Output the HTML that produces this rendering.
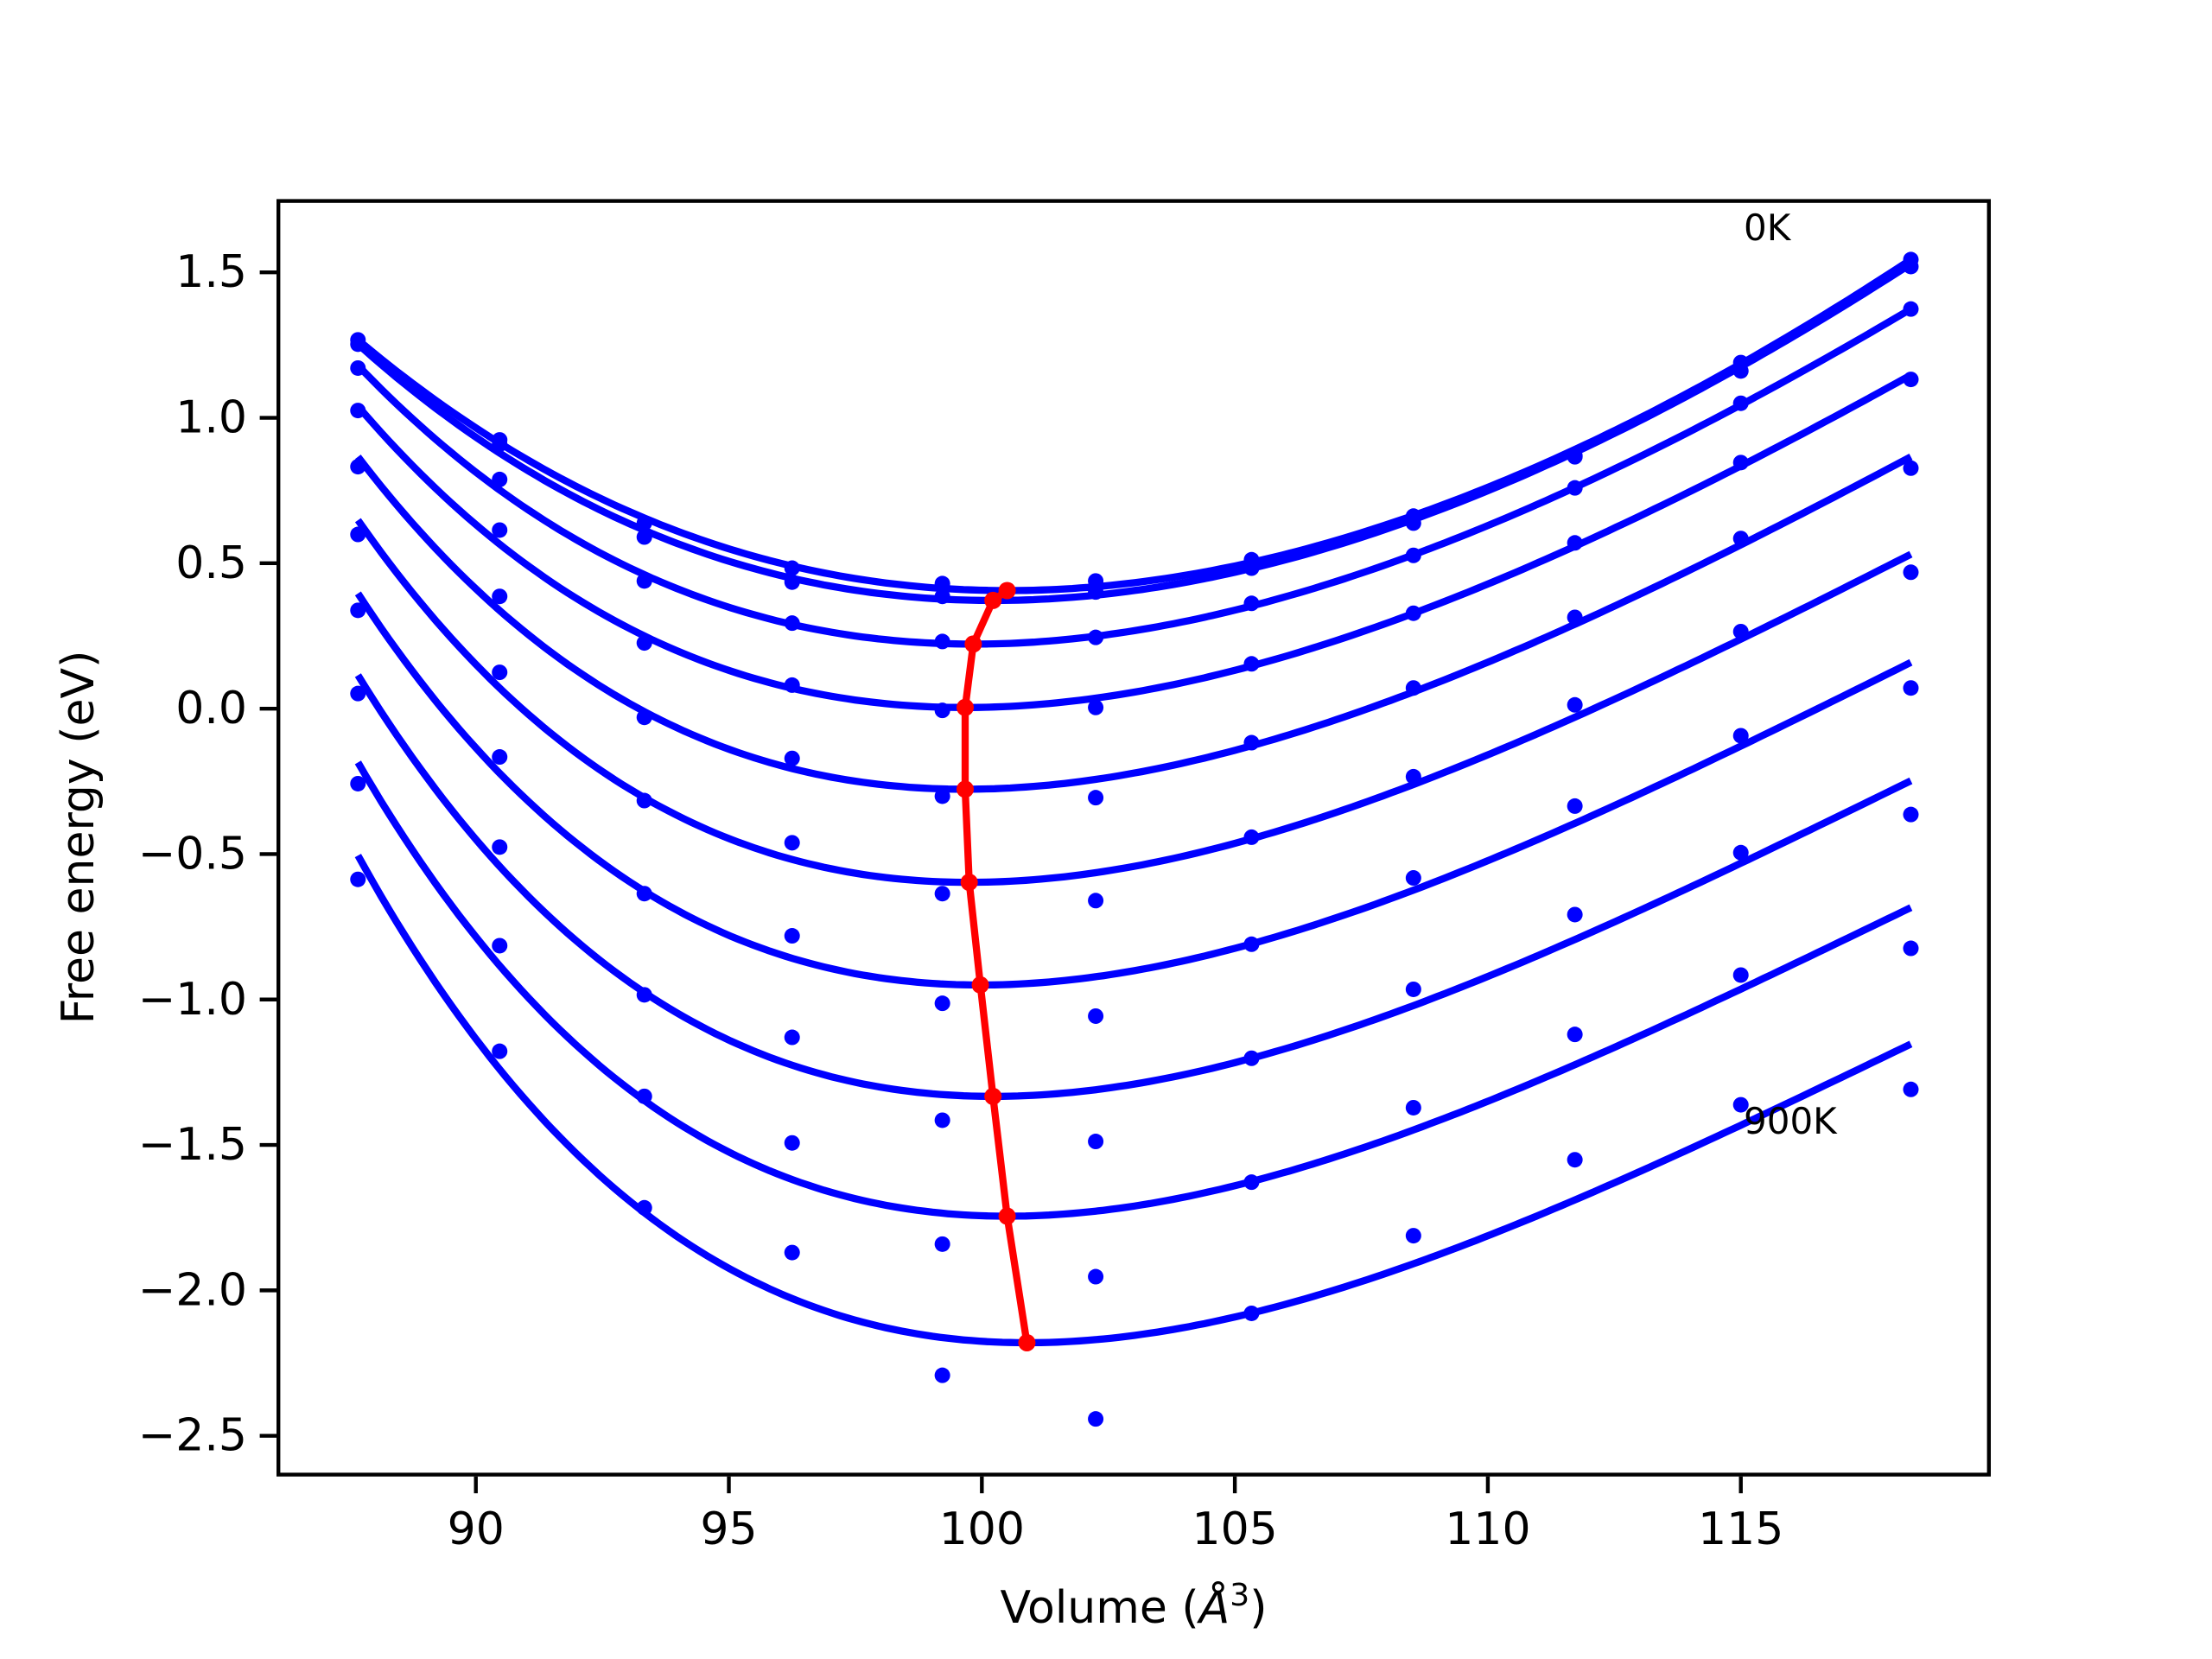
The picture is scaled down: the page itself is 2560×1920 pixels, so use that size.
<!DOCTYPE html>
<html><head><meta charset="utf-8"><style>
html,body{margin:0;padding:0;background:#fff}
svg{display:block;font-family:"DejaVu Sans","Liberation Sans",sans-serif}
</style></head><body>
<svg id="chart" width="2560" height="1920" viewBox="0 0 2560 1920" xmlns="http://www.w3.org/2000/svg">
<rect x="0" y="0" width="2560" height="1920" fill="#fff"/>
<g id="plot"></g>
<rect x="322.2" y="232.6" width="1979.6" height="1474" fill="none" stroke="#000" stroke-width="4.4"/>
<g id="axes"></g>
<text x="2018" y="278" font-size="42">0K</text>
<text x="2018" y="1312" font-size="42">900K</text>
<text x="1312" y="1878" font-size="52" text-anchor="middle">Volume (<tspan font-style="italic">Å</tspan><tspan font-size="36" dy="-20">3</tspan><tspan dy="20">)</tspan></text>
<text transform="translate(108,969) rotate(-90)" font-size="52" text-anchor="middle">Free energy (eV)</text>
</svg>
<script>
const volumes = [87.67, 90.47, 93.33, 96.25, 99.22, 102.25, 105.33, 108.53, 111.72, 115.0, 118.36];
const temps = ["0K","100K","200K","300K","400K","500K","600K","700K","800K","900K"];
const e0K = [1.268,0.924,0.638,0.483,0.430,0.439,0.512,0.662,0.870,1.190,1.544];
const e100K = [1.253,0.909,0.590,0.435,0.386,0.401,0.483,0.638,0.866,1.161,1.520];
const e200K = [1.171,0.788,0.439,0.294,0.231,0.245,0.362,0.527,0.759,1.050,1.374];
const e300K = [1.025,0.614,0.226,0.081,-0.006,0.004,0.154,0.328,0.570,0.846,1.132];
const e400K = [0.832,0.386,-0.030,-0.171,-0.301,-0.306,-0.117,0.071,0.314,0.585,0.827];
const e500K = [0.599,0.125,-0.316,-0.461,-0.636,-0.660,-0.442,-0.234,0.013,0.265,0.469];
const e600K = [0.338,-0.166,-0.636,-0.781,-1.013,-1.057,-0.810,-0.582,-0.335,-0.093,0.071];
const e700K = [0.052,-0.476,-0.984,-1.130,-1.415,-1.488,-1.202,-0.965,-0.708,-0.495,-0.364];
const e800K = [-0.258,-0.815,-1.333,-1.493,-1.841,-1.953,-1.628,-1.372,-1.120,-0.916,-0.824];
const e900K = [-0.587,-1.178,-1.716,-1.870,-2.292,-2.442,-2.079,-1.812,-1.551,-1.362,-1.309];
const minV = [100.50,100.22,99.83,99.67,99.67,99.75,99.97,100.22,100.50,100.89];
const minE = [0.406,0.372,0.222,0.004,-0.277,-0.597,-0.950,-1.333,-1.745,-2.180];
const fitLeftE = [1.268,1.253,1.180,1.040,0.866,0.648,0.396,0.115,-0.185,-0.505];
const fitRightE = [1.544,1.529,1.374,1.147,0.866,0.531,0.159,-0.248,-0.684,-1.153];
const xTicks = [90,95,100,105,110,115];
const yTicks = [-2.5,-2.0,-1.5,-1.0,-0.5,0.0,0.5,1.0,1.5];

const series = [e0K,e100K,e200K,e300K,e400K,e500K,e600K,e700K,e800K,e900K];
const X0=320,X1=2304,Y0=1708.8,Y1=230.4;
const xmin=86.06,xmax=119.94,ymin=-2.64,ymax=1.752;
function sx(v){return X0+(v-xmin)/(xmax-xmin)*(X1-X0);}
function sy(v){return Y0-(v-ymin)/(ymax-ymin)*(Y0-Y1);}
const NS="http://www.w3.org/2000/svg";
const plot=document.getElementById('plot'), axes=document.getElementById('axes');
function mk(tag,attrs,parent){const e=document.createElementNS(NS,tag);for(const k in attrs)e.setAttribute(k,attrs[k]);parent.appendChild(e);return e;}

const vL=volumes[0], vR=volumes[volumes.length-1];
temps.forEach((t,i)=>{
  const V0=minV[i],E0=minE[i];
  const ef=v=>Math.pow(V0/v,2/3)-1;
  const dl=ef(vL), dr=ef(vR), yl=fitLeftE[i]-E0, yr=fitRightE[i]-E0;
  const det=dl*dl*dr*dr*dr - dl*dl*dl*dr*dr;
  const a=(yl*dr*dr*dr - dl*dl*dl*yr)/det;
  const b=(dl*dl*yr - yl*dr*dr)/det;
  let d='';
  for(let k=0;k<=200;k++){const v=vL+(vR-vL)*k/200;const f=ef(v);const e=E0+a*f*f+b*f*f*f;d+=(k?'L':'M')+sx(v).toFixed(1)+','+sy(e).toFixed(1);}
  const p=mk('path',{d:d,fill:'none',stroke:'#0000ff','stroke-width':8.3},plot);
  
  
});
temps.forEach((t,i)=>{
  series[i].forEach((e,j)=>{
    const c=mk('circle',{cx:sx(volumes[j]),cy:sy(e),r:9,fill:'#0000ff'},plot);
    
    
  });
});
let rd='';
minV.forEach((v,i)=>{rd+=(i?'L':'M')+sx(v).toFixed(1)+','+sy(minE[i]).toFixed(1);});
const rl=mk('path',{d:rd,fill:'none',stroke:'#ff0000','stroke-width':8.3,'stroke-linejoin':'round'},plot);


minV.forEach((v,i)=>{
  const c=mk('circle',{cx:sx(v),cy:sy(minE[i]),r:10,fill:'#ff0000'},plot);
  
  
});
xTicks.forEach(v=>{
  const x=sx(v);
  const l=mk('line',{x1:x,x2:x,y1:Y0,y2:Y0+19.4,stroke:'#000','stroke-width':4.4},axes);
  
  
  const tx=mk('text',{x:x,y:Y0+78,'font-size':52,'text-anchor':'middle'},axes);
  tx.textContent=String(v);
  
  
});
yTicks.forEach(v=>{
  const y=sy(v);
  const l=mk('line',{x1:X0-19.4,x2:X0,y1:y,y2:y,stroke:'#000','stroke-width':4.4},axes);
  
  
  const tx=mk('text',{x:X0-34,y:y+17,'font-size':52,'text-anchor':'end'},axes);
  tx.textContent=v.toFixed(1).replace('-','−');
  
  
});
</script>
</body></html>
